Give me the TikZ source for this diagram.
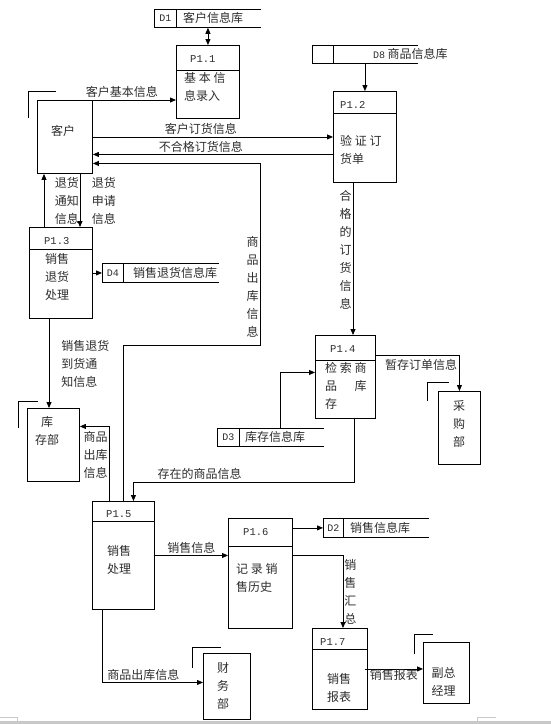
\documentclass[tikz,border=0pt]{standalone}
\usepackage{fontspec}
\usetikzlibrary{arrows.meta, positioning}
\newfontfamily\cjk{Noto Sans CJK SC}
\newfontfamily\pmono{Liberation Mono}
\definecolor{dfd_text}{RGB}{45, 45, 45}
\definecolor{dfd_bar}{RGB}{200, 200, 200}

\begin{document}
\begin{tikzpicture}[
        x=1pt, y=-1pt,
        >={Triangle[length=6pt, width=5pt]},
        every node/.style={font=\cjk\fontsize{12}{18}\selectfont, text=dfd_text},
        proc/.style={draw, line width=0.9pt, anchor=north west, inner sep=0pt},
        ent/.style={draw, line width=0.9pt, anchor=north west, inner sep=0pt},
        sid/.style={draw, line width=0.8pt, anchor=north west, inner sep=0pt, minimum height=18pt, font=\pmono\fontsize{10}{12}\selectfont},
        sname/.style={anchor=west, inner sep=0pt},
        pid/.style={anchor=west, inner sep=0pt, font=\pmono\fontsize{10.5}{12}\selectfont},
        body/.style={anchor=west, inner sep=0pt, align=left},
        etxt/.style={inner sep=0pt, align=center},
        vlab/.style={inner sep=1pt, align=center},
        arr/.style={draw, line width=0.8pt},
        rim/.style={draw, line width=0.8pt}
    ]
    \useasboundingbox (0,0) rectangle (551,724);

    % processus
    \node[proc, minimum width=63pt, minimum height=73pt] (p11) at (176,45) {};
    \draw[rim] ([yshift=-25pt]p11.north west) -- ([yshift=-25pt]p11.north east);
    \node[pid] (p11h) at (190,59) {P1.1};
    \node[body] (p11t) at (184,87) {基 本 信\\息录入};

    \node[proc, minimum width=63pt, minimum height=91pt] (p12) at (333,91) {};
    \draw[rim] ([yshift=-22pt]p12.north west) -- ([yshift=-22pt]p12.north east);
    \node[pid] (p12h) at (340,105) {P1.2};
    \node[body] (p12t) at (340,149.5) {验 证 订\\货单};

    \node[proc, minimum width=63pt, minimum height=91pt] (p13) at (29,227) {};
    \draw[rim] ([yshift=-22pt]p13.north west) -- ([yshift=-22pt]p13.north east);
    \node[pid] (p13h) at (44,241) {P1.3};
    \node[body] (p13t) at (45,277) {销售\\退货\\处理};

    \node[proc, minimum width=60pt, minimum height=83pt] (p14) at (315,335) {};
    \draw[rim] ([yshift=-25pt]p14.north west) -- ([yshift=-25pt]p14.north east);
    \node[pid] (p14h) at (330,349) {P1.4};
    \node[body] (p14t) at (325,386) {检 索 商\\品\hspace{17.5pt}库\\存};

    \node[proc, minimum width=62pt, minimum height=108pt] (p15) at (92,501) {};
    \draw[rim] ([yshift=-20pt]p15.north west) -- ([yshift=-20pt]p15.north east);
    \node[pid] (p15h) at (106,514) {P1.5};
    \node[body] (p15t) at (107,560) {销售\\处理};

    \node[proc, minimum width=64pt, minimum height=110pt] (p16) at (228,518) {};
    \draw[rim] ([yshift=-28pt]p16.north west) -- ([yshift=-28pt]p16.north east);
    \node[pid] (p16h) at (243,532) {P1.6};
    \node[body] (p16t) at (236,578) {记 录 销\\售历史};

    \node[proc, minimum width=55pt, minimum height=81pt] (p17) at (312,628) {};
    \draw[rim] ([yshift=-21pt]p17.north west) -- ([yshift=-21pt]p17.north east);
    \node[pid] (p17h) at (320,642) {P1.7};
    \node[body] (p17t) at (327,687.5) {销售\\报表};

    % entites externes
    \node[ent, minimum width=55pt, minimum height=73pt] (ke) at (37,100) {};
    \draw[rim] ([shift={(-9,18)}]ke.north west) |- ([shift={(19,-9)}]ke.north west);
    \node[etxt] (ket) at (63,131) {客户};

    \node[ent, minimum width=52pt, minimum height=73pt] (kc) at (27,408) {};
    \draw[rim] ([shift={(-9,20)}]kc.north west) |- ([shift={(11,-7)}]kc.north west);
    \node[etxt] (kct) at (47,431) {库\\存部};

    \node[ent, minimum width=42pt, minimum height=73pt] (cg) at (438,391) {};
    \draw[rim] ([shift={(-11,10)}]cg.north west) |- ([shift={(11,-9)}]cg.north west);
    \node[etxt] (cgt) at (459,424) {采\\购\\部};

    \node[ent, minimum width=47pt, minimum height=66pt] (cw) at (203,653) {};
    \draw[rim] ([shift={(-11,15)}]cw.north west) |- ([shift={(18,-6)}]cw.north west);
    \node[etxt] (cwt) at (223,685.5) {财\\务\\部};

    \node[ent, minimum width=46pt, minimum height=61pt] (fz) at (423,642) {};
    \draw[rim] ([shift={(-9,12)}]fz.north west) |- ([shift={(10,-8)}]fz.north west);
    \node[etxt] (fzt) at (443.5,682) {副总\\经理};

    % stockages
    \node[sid, minimum width=22pt] (d1) at (154,9) {D1};
    \node[sname, right=6pt of d1] (d1n) {客户信息库};
    \draw[rim] (d1.north east) -- ++(84,0) (d1.south east) -- ++(84,0);

    \node[sid, minimum width=21pt] (d8) at (312,45) {};
    \node[sname, right=39pt of d8] (d8n) {{\pmono\fontsize{10}{12}\selectfont D8} 商品信息库};
    \draw[rim] (d8.north east) -- ++(84,0) (d8.south east) -- ++(84,0);

    \node[sid, minimum width=21pt, minimum height=19pt] (d4) at (102,263) {D4};
    \node[sname, right=9pt of d4] (d4n) {销售退货信息库};
    \draw[rim] (d4.north east) -- ++(95,0) (d4.south east) -- ++(95,0);

    \node[sid, minimum width=22pt] (d3) at (217,428) {D3};
    \node[sname, right=5pt of d3] (d3n) {库存信息库};
    \draw[rim] (d3.north east) -- ++(84,0) (d3.south east) -- ++(84,0);

    \node[sid, minimum width=20pt, minimum height=19pt] (d2) at (323,518) {D2};
    \node[sname, right=6pt of d2] (d2n) {销售信息库};
    \draw[rim] (d2.north east) -- ++(85,0) (d2.south east) -- ++(85,0);

    % points de passage
    \coordinate (k2) at ([yshift=-17.5pt]ke.east);
    \coordinate (k3) at ([yshift=-26.5pt]ke.east);
    \coordinate (c1) at (260,345);
    \coordinate (c2) at (354,482);
    \coordinate (c3) at ([xshift=20pt]p12.south west);
    \coordinate (c4) at ([xshift=17pt]p15.north west);
    \coordinate (c5) at ([xshift=20pt]p13.south west);
    \coordinate (c6) at ([xshift=15pt]p13.north west);
    \coordinate (c7) at ([xshift=43pt]ke.south west);
    \coordinate (c8) at ([yshift=-37pt]p16.north east);
    \coordinate (c9) at ([xshift=10pt]p15.south west);

    % flux de donnees
    \draw[arr, <->] (p11.north |- d1.south) -- (p11.north);
    \draw[arr, ->] (ke.north east) -- node[above, pos=0.35, inner sep=2pt] {客户基本信息} (ke.north east -| p11.west);
    \draw[arr, ->] (ke.east) -- node[above, pos=0.45, inner sep=2pt] {客户订货信息} (ke.east -| p12.west);
    \draw[arr, ->] (k2 -| p12.west) -- node[above, pos=0.55, inner sep=2pt] {不合格订货信息} (k2);
    \draw[arr, ->] (p15.north) |- (c1) -- node[vlab, left, pos=0.32] {商\\品\\出\\库\\信\\息} (c1 |- k3) -- (k3);
    \draw[arr, ->] (p12.north |- d8.south) -- (p12.north);
    \draw[arr, ->] (c3) -- node[vlab, left, pos=0.44] {合\\格\\的\\订\\货\\信\\息} (c3 |- p14.north);
    \draw[arr, ->] ([xshift=41pt]d3.north east) |- ([yshift=4.5pt]p14.west);
    \draw[arr, ->] ([yshift=21.5pt]p14.east) -| node[below, pos=0.27, inner sep=3pt] {暂存订单信息} (cg.north);
    \draw[arr, ->] (c2 |- p14.south) -- (c2) -| node[above, pos=0.35, inner sep=2pt] {存在的商品信息} ([xshift=10pt]p15.north);
    \draw[arr, ->] (c4) |- node[vlab, left, pos=0.31] {商品\\出库\\信息} ([yshift=18.5pt]kc.east);
    \draw[arr, ->] (c5) -- node[right=12pt, align=left, inner sep=0pt] {销售退货\\到货通\\知信息} (c5 |- kc.north);
    \draw[arr, ->] (c6) -- node[right=10.5pt, align=left, inner sep=0pt] {退货\\通知\\信息} (c6 |- ke.south);
    \draw[arr, ->] (c7) -- node[right=11.5pt, align=left, inner sep=0pt] {退货\\申请\\信息} (c7 |- p13.north);
    \draw[arr, ->] (p13.east) -- (p13.east -| d4.west);
    \draw[arr, ->] (p15.east) -- node[above, inner sep=2pt] {销售信息} (p15.east -| p16.west);
    \draw[arr, ->] (d2.west -| p16.east) -- (d2.west);
    \draw[arr, ->] (c8) -| node[vlab, right, pos=0.75] {销\\售\\汇\\总} ([xshift=31pt]p17.north west);
    \draw[arr, ->] ([xshift=-3pt]p17.east) -- node[below, inner sep=0.5pt] {销售报表} (p17.east -| fz.west);
    \draw[arr, ->] (c9) |- node[above, pos=0.705, inner sep=2pt] {商品出库信息} ([yshift=4pt]cw.west);

    % bas de page
    \fill[dfd_bar] (0,721) rectangle (551,724);
    \draw[dfd_bar, line width=0.6pt] (0,717) -| (17,721) (496,717) -| (477,721);
\end{tikzpicture}
\end{document}
